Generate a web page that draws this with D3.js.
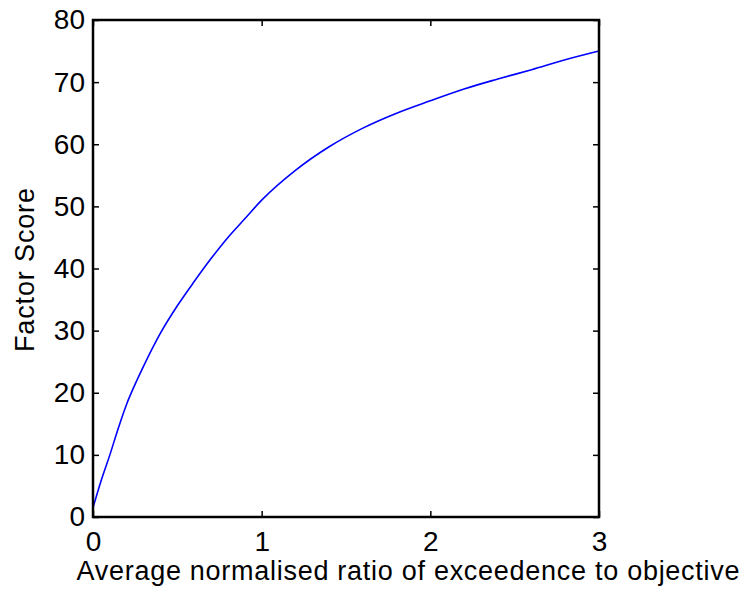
<!DOCTYPE html>
<html>
<head>
<meta charset="utf-8">
<script src="https://cdn.jsdelivr.net/npm/d3@7"></script>
<style>
  body { margin: 0; background: #fff; }
  svg text { font-family: Arial, "Liberation Sans", sans-serif; fill: #000; }
</style>
</head>
<body>
<div id="chart"></div>
<script>
// values
const ratio = [0, 0.05, 0.1, 0.15, 0.2, 0.25, 0.3, 0.4, 0.5, 0.6, 0.7, 0.8, 0.9, 1.0,
               1.2, 1.4, 1.6, 1.8, 2.0, 2.2, 2.4, 2.6, 2.8, 3.0];
const score = [1.5, 6, 10, 14.3, 18.2, 21.4, 24.3, 29.6, 34, 37.9, 41.6, 45, 48, 51,
               55.8, 59.6, 62.6, 65, 67, 68.9, 70.5, 72, 73.6, 75];
const xTicks = [0, 1, 2, 3];
const yTicks = [0, 10, 20, 30, 40, 50, 60, 70, 80];
const xTitle = 'Average normalised ratio of exceedence to objective';
const yTitle = 'Factor Score';

const width = 745, height = 594;
const margin = { left: 93, top: 20, right: 146, bottom: 77 };
const innerW = width - margin.left - margin.right,
      innerH = height - margin.top - margin.bottom;

const svg = d3.select('#chart')
    .append('svg')
        .attr('width', width)
        .attr('height', height);

const g = svg.append('g')
    .attr('transform', 'translate(' + margin.left + ',' + margin.top + ')');

const x = d3.scaleLinear().domain([0, 3]).range([0, innerW]);
const y = d3.scaleLinear().domain([0, 80]).range([innerH, 0]);

// curve
g.append('path')
    .datum(ratio.map((r, i) => [r, score[i]]))
    .attr('fill', 'none')
    .attr('stroke', '#0000ff')
    .attr('stroke-width', 1.6)
    .attr('d', d3.line().x(d => x(d[0])).y(d => y(d[1])).curve(d3.curveMonotoneX));

// axes, matlab style: ticks inward on all four sides
const tickLen = 6;
const styleAxis = sel => {
    sel.select('.domain').remove();
    sel.selectAll('.tick line').attr('stroke', '#000').attr('stroke-width', 1.5);
    sel.selectAll('.tick text').style('font-size', '28px');
};

g.append('g')
    .attr('transform', 'translate(0,' + innerH + ')')
    .call(d3.axisBottom(x).tickValues(xTicks).tickFormat(d3.format('d'))
        .tickSizeInner(-tickLen).tickPadding(14))
    .call(styleAxis);

g.append('g')
    .call(d3.axisTop(x).tickValues(xTicks).tickFormat('').tickSizeInner(-tickLen))
    .call(styleAxis);

g.append('g')
    .call(d3.axisLeft(y).tickValues(yTicks).tickFormat(d3.format('d'))
        .tickSizeInner(-tickLen).tickPadding(8))
    .call(styleAxis);

g.append('g')
    .attr('transform', 'translate(' + innerW + ',0)')
    .call(d3.axisRight(y).tickValues(yTicks).tickFormat('').tickSizeInner(-tickLen))
    .call(styleAxis);

g.selectAll('.tick text').attr('font-family', null);

// box
g.append('rect')
    .attr('width', innerW)
    .attr('height', innerH)
    .attr('fill', 'none')
    .attr('stroke', '#000')
    .attr('stroke-width', 2.5);

// titles
svg.append('text')
    .attr('x', 408)
    .attr('y', 580)
    .attr('text-anchor', 'middle')
    .attr('textLength', 663)
    .attr('lengthAdjust', 'spacing')
    .style('font-size', '27px')
    .text(xTitle);

svg.append('text')
    .attr('transform', 'translate(34,270) rotate(-90)')
    .attr('text-anchor', 'middle')
    .attr('textLength', 164)
    .attr('lengthAdjust', 'spacing')
    .style('font-size', '27px')
    .text(yTitle);
</script>
</body>
</html>
